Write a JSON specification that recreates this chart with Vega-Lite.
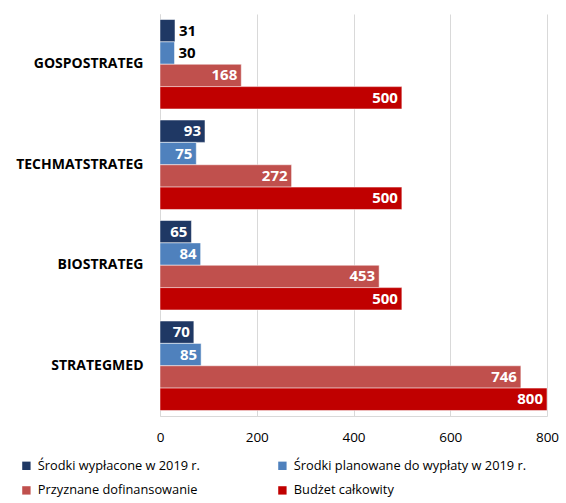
{
  "$schema": "https://vega.github.io/schema/vega-lite/v6.json",
  "autosize": {"type": "none"},
  "width": 387,
  "height": 402,
  "padding": {"left": 160, "top": 14, "right": 19, "bottom": 87},
  "background": "white",
  "config": {"view": {"stroke": null}, "font": "Open Sans"},
  "data": {
    "values": [
      {"program": "GOSPOSTRATEG", "series": "Środki wypłacone w 2019 r.", "value": 31},
      {"program": "GOSPOSTRATEG", "series": "Środki planowane do wypłaty w 2019 r.", "value": 30},
      {"program": "GOSPOSTRATEG", "series": "Przyznane dofinansowanie", "value": 168},
      {"program": "GOSPOSTRATEG", "series": "Budżet całkowity", "value": 500},
      {"program": "TECHMATSTRATEG", "series": "Środki wypłacone w 2019 r.", "value": 93},
      {"program": "TECHMATSTRATEG", "series": "Środki planowane do wypłaty w 2019 r.", "value": 75},
      {"program": "TECHMATSTRATEG", "series": "Przyznane dofinansowanie", "value": 272},
      {"program": "TECHMATSTRATEG", "series": "Budżet całkowity", "value": 500},
      {"program": "BIOSTRATEG", "series": "Środki wypłacone w 2019 r.", "value": 65},
      {"program": "BIOSTRATEG", "series": "Środki planowane do wypłaty w 2019 r.", "value": 84},
      {"program": "BIOSTRATEG", "series": "Przyznane dofinansowanie", "value": 453},
      {"program": "BIOSTRATEG", "series": "Budżet całkowity", "value": 500},
      {"program": "STRATEGMED", "series": "Środki wypłacone w 2019 r.", "value": 70},
      {"program": "STRATEGMED", "series": "Środki planowane do wypłaty w 2019 r.", "value": 85},
      {"program": "STRATEGMED", "series": "Przyznane dofinansowanie", "value": 746},
      {"program": "STRATEGMED", "series": "Budżet całkowity", "value": 800}
    ]
  },
  "encoding": {
    "y": {
      "field": "program", "type": "nominal",
      "sort": ["GOSPOSTRATEG", "TECHMATSTRATEG", "BIOSTRATEG", "STRATEGMED"],
      "scale": {"paddingInner": 0.11, "paddingOuter": 0.055},
      "axis": {
        "title": null, "ticks": false, "domain": true, "domainColor": "#D9D9D9",
        "labelFontWeight": "bold", "labelFontSize": 14, "labelColor": "#000000",
        "labelPadding": 17, "labelFont": "Open Sans"
      }
    },
    "yOffset": {
      "field": "series", "type": "nominal",
      "sort": ["Środki wypłacone w 2019 r.", "Środki planowane do wypłaty w 2019 r.", "Przyznane dofinansowanie", "Budżet całkowity"],
      "scale": {"paddingInner": 0, "paddingOuter": 0}
    },
    "x": {
      "field": "value", "type": "quantitative",
      "scale": {"domain": [0, 800], "nice": false},
      "axis": {
        "title": null, "values": [0, 200, 400, 600, 800], "ticks": false, "labelFlush": false,
        "grid": true, "gridColor": "#D9D9D9", "domainColor": "#D9D9D9",
        "labelFontSize": 13.5, "labelColor": "#000000", "labelPadding": 14, "labelFont": "Open Sans"
      }
    }
  },
  "layer": [
    {
      "mark": {"type": "bar", "stroke": "white", "strokeWidth": 0.5},
      "encoding": {
        "color": {
          "field": "series", "type": "nominal",
          "sort": ["Środki wypłacone w 2019 r.", "Środki planowane do wypłaty w 2019 r.", "Przyznane dofinansowanie", "Budżet całkowity"],
          "scale": {
            "domain": ["Środki wypłacone w 2019 r.", "Środki planowane do wypłaty w 2019 r.", "Przyznane dofinansowanie", "Budżet całkowity"],
            "range": ["#1F3864", "#4F81BD", "#C0504D", "#C00000"]
          },
          "legend": {
            "title": null, "orient": "none", "legendX": -140, "legendY": 445,
            "direction": "horizontal", "columns": 2, "columnPadding": 76, "rowPadding": 11,
            "symbolType": "square", "symbolSize": 70, "symbolStrokeWidth": 0, "symbolOffset": 0,
            "labelOffset": 5,
            "labelFontSize": 12.8, "labelColor": "#000000", "labelFont": "Open Sans", "labelLimit": 300,
            "gridAlign": "each"
          }
        }
      }
    },
    {
      "transform": [{"filter": "datum.value >= 50"}],
      "mark": {"type": "text", "align": "right", "dx": -4, "fontWeight": "bold", "fontSize": 15, "color": "white", "font": "Open Sans"},
      "encoding": {"text": {"field": "value", "type": "quantitative"}}
    },
    {
      "transform": [{"filter": "datum.value < 50"}],
      "mark": {"type": "text", "align": "left", "dx": 4, "fontWeight": "bold", "fontSize": 15, "color": "black", "font": "Open Sans"},
      "encoding": {"text": {"field": "value", "type": "quantitative"}}
    }
  ]
}
